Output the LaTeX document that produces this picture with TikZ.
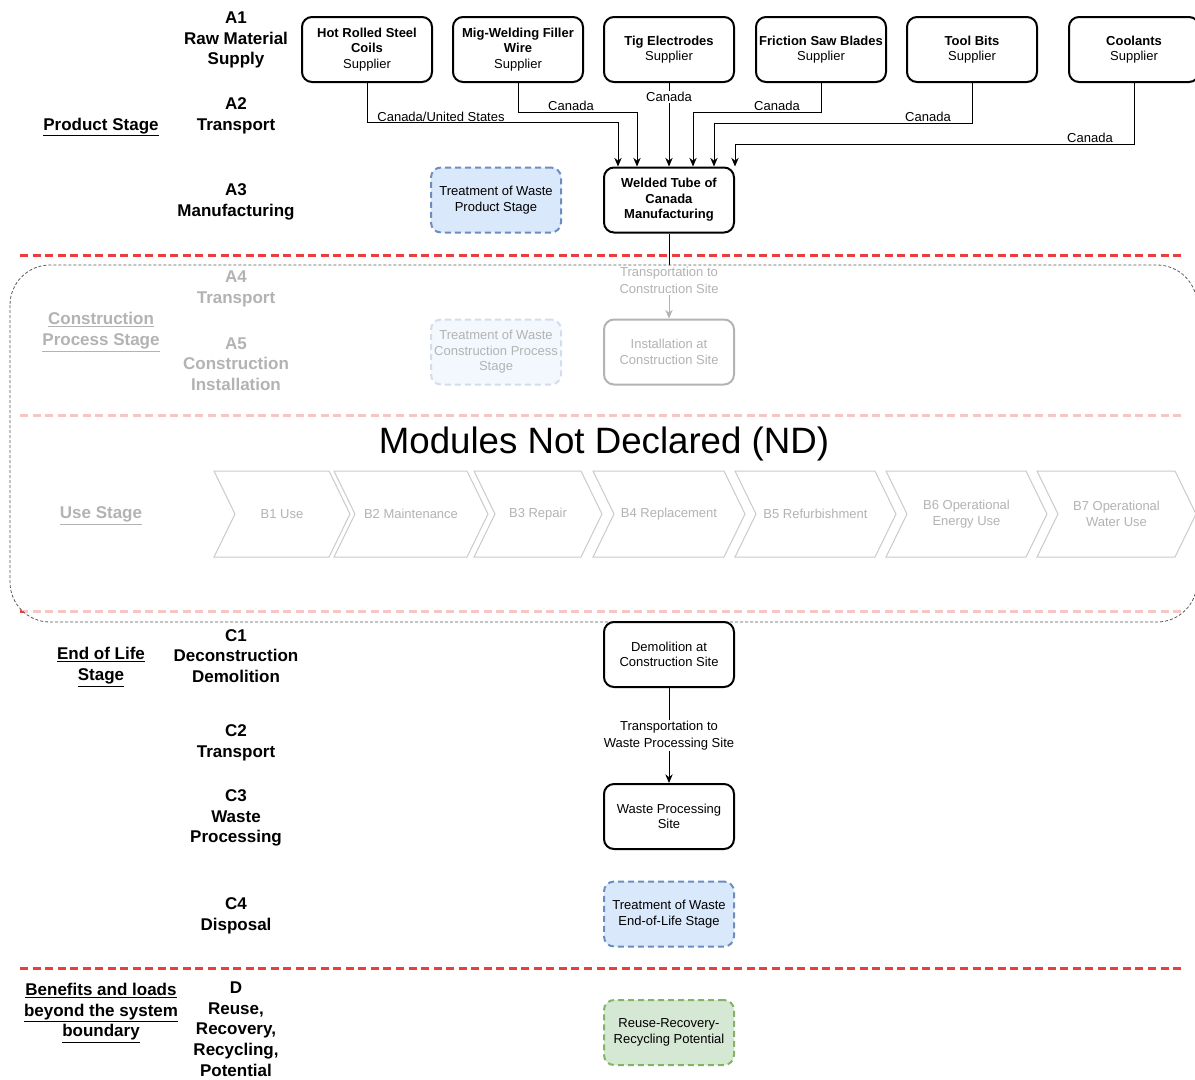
\documentclass[tikz,border=0pt]{standalone}
\usepackage{fontspec}
\setmainfont{Liberation Sans}
\usepackage{tikz}
\usetikzlibrary{arrows.meta}
\usetikzlibrary{calc}

\definecolor{stagered}{RGB}{234,62,62}
\definecolor{wasteblue}{RGB}{218,232,252}
\definecolor{wasteblueline}{RGB}{108,142,191}
\definecolor{reusegreen}{RGB}{213,232,212}
\definecolor{reusegreenline}{RGB}{130,179,102}
\definecolor{chevgray}{RGB}{80,80,80}

\tikzset{
    procbox/.style={draw=black, line width=1.5pt, rounded corners=7.5pt, fill=white,
        minimum width=97.5pt, minimum height=48.75pt, align=center, inner sep=1pt,
        font=\fontsize{9.75}{11.6}\selectfont},
    wastebox/.style={procbox, draw=wasteblueline, fill=wasteblue, dash pattern=on 4.5pt off 3pt},
    reusebox/.style={procbox, draw=reusegreenline, fill=reusegreen, dash pattern=on 4.5pt off 3pt},
    modlabel/.style={align=center, font=\fontsize{12.75}{15.5}\selectfont\bfseries},
    stagelabel/.style={modlabel},
    conn/.style={line width=0.75pt, -{Stealth[length=6.5pt,width=5.5pt]}},
    connlabel/.style={align=center, inner sep=1pt, font=\fontsize{9.75}{12.4}\selectfont},
    stageline/.style={draw=stagered, line width=2.25pt, dash pattern=on 6pt off 3.4pt},
    chevron/.style={draw=chevgray, line width=0.75pt, fill=white},
    chevtext/.style={align=center, font=\fontsize{9.75}{11.6}\selectfont},
    ndveil/.style={draw=black!65, line width=0.6pt, dash pattern=on 2.25pt off 1.5pt,
        fill=white, fill opacity=0.7, rounded corners=30pt}
}

\begin{document}
\begin{tikzpicture}[x=0.75pt,y=-0.75pt]

        \useasboundingbox (0,0) rectangle (1195,1079);

        \foreach \y in {255,415,611,968}
            \draw[stageline] (20,\y) -- (1185,\y);

        \node[stagelabel] (scons) at (101,332) {\underline{Construction}\\\underline{Process Stage}};
        \node[stagelabel] (suse) at (101,516) {\underline{Use Stage}};
        \node[modlabel] (a4) at (236,289) {A4\\Transport};
        \node[modlabel] (a5) at (236,364) {A5\\Construction\\Installation};

        \node[procbox] (weld) at (669,200) {\textbf{Welded Tube of}\\\textbf{Canada}\\\textbf{Manufacturing}};
        \node[procbox] (inst) at (669,352) {Installation at\\Construction Site};
        \node[wastebox] (wcons) at (496,352) {Treatment of Waste\\Construction Process\\Stage};
        \draw[conn] (weld) -- node[connlabel, fill=white, pos=0.55] (lsite) {Transportation to\\Construction Site} (inst);

        \foreach \xl/\xr/\name/\txt in {214/350/b1/{B1 Use}, 334/488/b2/{B2 Maintenance},
            474/602/b3/{B3 Repair}, 593/745/b4/{B4 Replacement}, 735/896/b5/{B5 Refurbishment},
            886/1047/b6/{B6 Operational\\Energy Use}, 1037/1196/b7/{B7 Operational\\Water Use}} {
            \draw[chevron] (\xl,471) -- (\xr-21,471) -- (\xr,514) -- (\xr-21,557) -- (\xl,557) -- (\xl+21,514) -- cycle;
            \node[chevtext] (\name) at ({(\xl+\xr)/2},514) {\txt};
        }

        \draw[ndveil] (10,265) rectangle (1197,622);
        \node[font=\fontsize{27.5}{33}\selectfont] (nd) at (604,444) {Modules Not Declared (ND)};

        \node[stagelabel] (sprod) at (101,127) {\underline{Product Stage}};
        \node[stagelabel] (seol) at (101,667) {\underline{End of Life}\\\underline{Stage}};
        \node[stagelabel] (sben) at (101,1013) {\underline{Benefits and loads}\\\underline{beyond the system}\\\underline{boundary}};

        \node[modlabel] (a1) at (236,40) {A1\\Raw Material\\Supply};
        \node[modlabel] (a2) at (236,115.5) {A2\\Transport};
        \node[modlabel] (a3) at (236,202) {A3\\Manufacturing};
        \node[modlabel] (c1) at (236,656) {C1\\Deconstruction\\Demolition};
        \node[modlabel] (c2) at (236,742.5) {C2\\Transport};
        \node[modlabel] (c3) at (236,818) {C3\\Waste\\Processing};
        \node[modlabel] (c4) at (236,915.5) {C4\\Disposal};
        \node[modlabel] (dmod) at (236,1029) {D\\Reuse,\\Recovery,\\Recycling,\\Potential};

        \node[procbox] (hot) at (367,49.5) {\textbf{Hot Rolled Steel}\\\textbf{Coils}\\Supplier};
        \node[procbox] (mig) at (518,49.5) {\textbf{Mig-Welding Filler}\\\textbf{Wire}\\Supplier};
        \node[procbox] (tig) at (669,49.5) {\textbf{Tig Electrodes}\\Supplier};
        \node[procbox] (saw) at (821,49.5) {\textbf{Friction Saw Blades}\\Supplier};
        \node[procbox] (bits) at (972,49.5) {\textbf{Tool Bits}\\Supplier};
        \node[procbox] (cool) at (1134,49.5) {\textbf{Coolants}\\Supplier};

        \node[wastebox] (wprod) at (496,200) {Treatment of Waste\\Product Stage};

        \draw[conn] (hot.south) |- ($(weld.north)+(-51,-44)$) -- ($(weld.north)+(-51,0)$);
        \draw[conn] (mig.south) |- ($(weld.north)+(-32,-54)$) -- ($(weld.north)+(-32,0)$);
        \draw[conn] (tig.south) -- (weld.north);
        \draw[conn] (saw.south) |- ($(weld.north)+(24,-54)$) -- ($(weld.north)+(24,0)$);
        \draw[conn] (bits.south) |- ($(weld.north)+(45,-43)$) -- ($(weld.north)+(45,0)$);
        \draw[conn] (cool.south) |- ($(weld.north)+(66,-22)$) -- ($(weld.north)+(66,0)$);

        \node[connlabel] (lhot) at (441,117) {Canada/United States};
        \node[connlabel] (lmig) at (571,106) {Canada};
        \node[connlabel, fill=white] (ltig) at (669,97) {Canada};
        \node[connlabel] (lsaw) at (777,106) {Canada};
        \node[connlabel] (lbits) at (928,117) {Canada};
        \node[connlabel] (lcool) at (1090,138) {Canada};

        \node[procbox] (demo) at (669,654.5) {Demolition at\\Construction Site};
        \node[procbox] (wproc) at (669,816.5) {Waste Processing\\Site};
        \node[wastebox] (weol) at (669,914) {Treatment of Waste\\End-of-Life Stage};
        \node[reusebox] (reuse) at (669,1032.5) {Reuse-Recovery-\\Recycling Potential};
        \draw[conn] (demo) -- node[connlabel, fill=white] (lwaste) {Transportation to\\Waste Processing Site} (wproc);

    \end{tikzpicture}
\end{document}
